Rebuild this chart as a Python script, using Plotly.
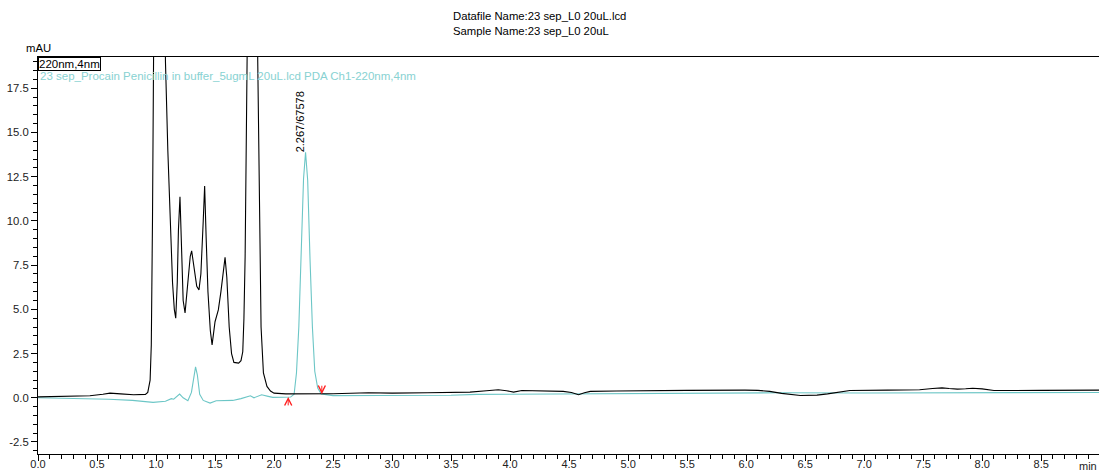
import plotly.graph_objects as go

# ---- data ----
sample_time = [0.00, 0.20, 0.44, 0.55, 0.61, 0.70, 0.81, 0.91, 0.93, 0.95, 0.96, 0.97, 0.98,
               1.00, 1.02, 1.04, 1.06, 1.08, 1.10, 1.12, 1.14, 1.155, 1.167, 1.18, 1.19,
               1.203, 1.215, 1.23, 1.246, 1.27, 1.29, 1.302, 1.32, 1.345, 1.364, 1.38,
               1.40, 1.412, 1.425, 1.44, 1.46, 1.475, 1.50, 1.528, 1.55, 1.575, 1.585,
               1.60, 1.62, 1.64, 1.66, 1.70, 1.72, 1.735, 1.745, 1.755, 1.765, 1.775,
               1.80, 1.82, 1.84, 1.862, 1.875, 1.89, 1.91, 1.94, 1.97, 2.00, 2.10, 2.30,
               2.50, 2.80, 3.00, 3.30, 3.66, 3.80, 3.90, 3.97, 4.03, 4.10, 4.30, 4.45,
               4.52, 4.58, 4.63, 4.68, 4.90, 5.14, 5.50, 5.99, 6.10, 6.20, 6.30, 6.46,
               6.60, 6.69, 6.88, 7.20, 7.47, 7.58, 7.66, 7.72, 7.79, 7.86, 7.92, 8.00,
               8.10, 8.50, 9.00]
sample_mau = [0.05, 0.07, 0.11, 0.20, 0.26, 0.22, 0.17, 0.19, 0.30, 1.00, 3.0, 10.0, 25.0,
              50.0, 60.0, 55.0, 35.0, 19.0, 14.0, 10.0, 6.5, 5.0, 4.5, 6.5, 9.5,
              11.36, 8.0, 5.5, 4.8, 6.5, 8.0, 8.31, 7.5, 6.3, 6.1, 7.0,
              10.0, 11.98, 9.0, 6.0, 3.8, 2.99, 4.3, 4.97, 6.0, 7.6, 7.94,
              6.8, 4.0, 2.5, 2.0, 1.96, 2.1, 2.6, 4.5, 8.0, 14.0, 22.0,
              38.0, 42.0, 36.0, 19.0, 10.0, 4.0, 1.4, 0.64, 0.38, 0.26, 0.22, 0.22,
              0.23, 0.28, 0.26, 0.28, 0.32, 0.40, 0.45, 0.40, 0.32, 0.41, 0.38, 0.36,
              0.30, 0.17, 0.28, 0.36, 0.38, 0.41, 0.42, 0.43, 0.42, 0.36, 0.25, 0.13,
              0.15, 0.22, 0.41, 0.43, 0.45, 0.52, 0.56, 0.52, 0.49, 0.51, 0.54, 0.50,
              0.41, 0.42, 0.43]

std_time = [0.00, 0.30, 0.60, 0.80, 0.975, 1.08, 1.13, 1.15, 1.20, 1.23, 1.27, 1.30, 1.32,
            1.335, 1.35, 1.37, 1.40, 1.458, 1.51, 1.58, 1.65, 1.72, 1.80, 1.83, 1.895,
            1.95, 1.99, 2.08, 2.14, 2.17, 2.19, 2.21, 2.23, 2.25, 2.267, 2.285, 2.305,
            2.325, 2.345, 2.37, 2.40, 2.50, 2.90, 3.50, 3.72, 4.50, 5.20, 6.00, 6.30,
            7.00, 7.80, 9.00]
std_mau = [0.00, -0.03, -0.08, -0.15, -0.26, -0.20, -0.05, -0.08, 0.21, 0.00, -0.17, 0.30, 1.20,
           1.75, 1.30, 0.20, -0.15, -0.30, -0.17, -0.16, -0.15, -0.05, 0.11, 0.00, 0.17,
           0.08, 0.02, 0.03, 0.04, 0.20, 1.40, 4.00, 8.20, 12.40, 13.88, 12.30, 7.80,
           4.00, 1.50, 0.55, 0.22, 0.12, 0.13, 0.14, 0.19, 0.22, 0.24, 0.26, 0.28,
           0.27, 0.28, 0.30]

peak_time = [2.267]
peak_label = ["2.267/67578"]
peak_height = [13.88]
integ_start = [2.12, 0.05]
integ_end = [2.405, 0.20]

x_ticks = [0.0, 0.5, 1.0, 1.5, 2.0, 2.5, 3.0, 3.5, 4.0, 4.5, 5.0, 5.5, 6.0, 6.5, 7.0, 7.5, 8.0, 8.5]
x_ticklabels = ["0.0", "0.5", "1.0", "1.5", "2.0", "2.5", "3.0", "3.5", "4.0", "4.5", "5.0",
                "5.5", "6.0", "6.5", "7.0", "7.5", "8.0", "8.5"]
y_ticks = [-2.5, 0.0, 2.5, 5.0, 7.5, 10.0, 12.5, 15.0, 17.5]
y_ticklabels = ["-2.5", "0.0", "2.5", "5.0", "7.5", "10.0", "12.5", "15.0", "17.5"]

FONT = "Liberation Sans, Arial, sans-serif"
TEAL = "#6cc6c6"

fig = go.Figure()
fig.add_trace(go.Scatter(x=std_time, y=std_mau, mode="lines",
                         line=dict(color=TEAL, width=1.1), hoverinfo="skip"))
fig.add_trace(go.Scatter(x=sample_time, y=sample_mau, mode="lines",
                         line=dict(color="#000000", width=1.1), hoverinfo="skip"))

annotations = [
    dict(text="Datafile Name:23 sep_L0 20uL.lcd<br>Sample Name:23 sep_L0 20uL",
         xref="paper", yref="paper", x=(451 - 38) / 1061, y=1, yshift=57 - 8,
         xanchor="left", yanchor="top", align="left", showarrow=False,
         font=dict(family=FONT, size=11.3, color="#000")),
    dict(text="mAU", xref="paper", yref="paper", x=0, y=1, yshift=1,
         xanchor="center", yanchor="bottom", showarrow=False,
         font=dict(family=FONT, size=11.3, color="#000")),
    dict(text="220nm,4nm", xref="paper", yref="paper", x=0, y=1,
         xanchor="left", yanchor="top", showarrow=False, bordercolor="#000",
         borderwidth=1, borderpad=0, font=dict(family=FONT, size=11.5, color="#000")),
    dict(text="23 sep_Procain Penicillin in buffer_5ugmL 20uL.lcd PDA Ch1-220nm,4nm",
         xref="paper", yref="paper", x=0, y=1, yshift=-11,
         xanchor="left", yanchor="top", showarrow=False,
         font=dict(family=FONT, size=11.5, color="#88d2d2")),
    dict(text="min", xref="paper", yref="paper", x=1, y=0, yshift=-4,
         xanchor="right", yanchor="top", showarrow=False,
         font=dict(family=FONT, size=11, color="#222")),
]
for t, lab, h in zip(peak_time, peak_label, peak_height):
    annotations.append(dict(text=lab, x=t, y=h, xref="x", yref="y", textangle=-90,
                            xanchor="center", yanchor="bottom", xshift=-6, yshift=-2,
                            showarrow=False, font=dict(family=FONT, size=11, color="#000")))
annotations.append(dict(x=integ_start[0], y=integ_start[1], xref="x", yref="y", ax=0, ay=10,
                        showarrow=True, arrowhead=5, arrowsize=1.4, arrowwidth=1,
                        arrowcolor="#ff2020", text=""))
annotations.append(dict(x=integ_end[0], y=integ_end[1], xref="x", yref="y", ax=0, ay=-10,
                        showarrow=True, arrowhead=5, arrowsize=1.4, arrowwidth=1,
                        arrowcolor="#ff2020", text=""))

fig.update_layout(
    width=1099, height=472,
    margin=dict(l=38, r=0, t=57, b=18, autoexpand=False),
    paper_bgcolor="white", plot_bgcolor="white",
    showlegend=False,
    annotations=annotations,
    font=dict(family=FONT, size=11, color="#222"),
)
fig.update_xaxes(range=[0, 8.99], showgrid=False, zeroline=False, automargin=False,
                 showline=True, linecolor="#000", linewidth=1, mirror=True,
                 ticks="outside", ticklen=6, tickcolor="#000", tickwidth=1,
                 ticklabelstandoff=-6,
                 tickvals=x_ticks, ticktext=x_ticklabels,
                 tickfont=dict(family=FONT, size=11, color="#222"),
                 minor=dict(dtick=0.1, tick0=0, ticks="outside", ticklen=4,
                            tickcolor="#000", showgrid=False))
fig.update_yaxes(range=[-3.18, 19.27], showgrid=False, zeroline=False, automargin=False,
                 showline=True, linecolor="#000", linewidth=1,
                 ticks="outside", ticklen=6, tickcolor="#000", tickwidth=1,
                 tickvals=y_ticks, ticktext=y_ticklabels,
                 tickfont=dict(family=FONT, size=11.3, color="#222"),
                 minor=dict(dtick=0.5, tick0=0, ticks="outside", ticklen=4,
                            tickcolor="#000", showgrid=False))

fig.write_html("out.html")
